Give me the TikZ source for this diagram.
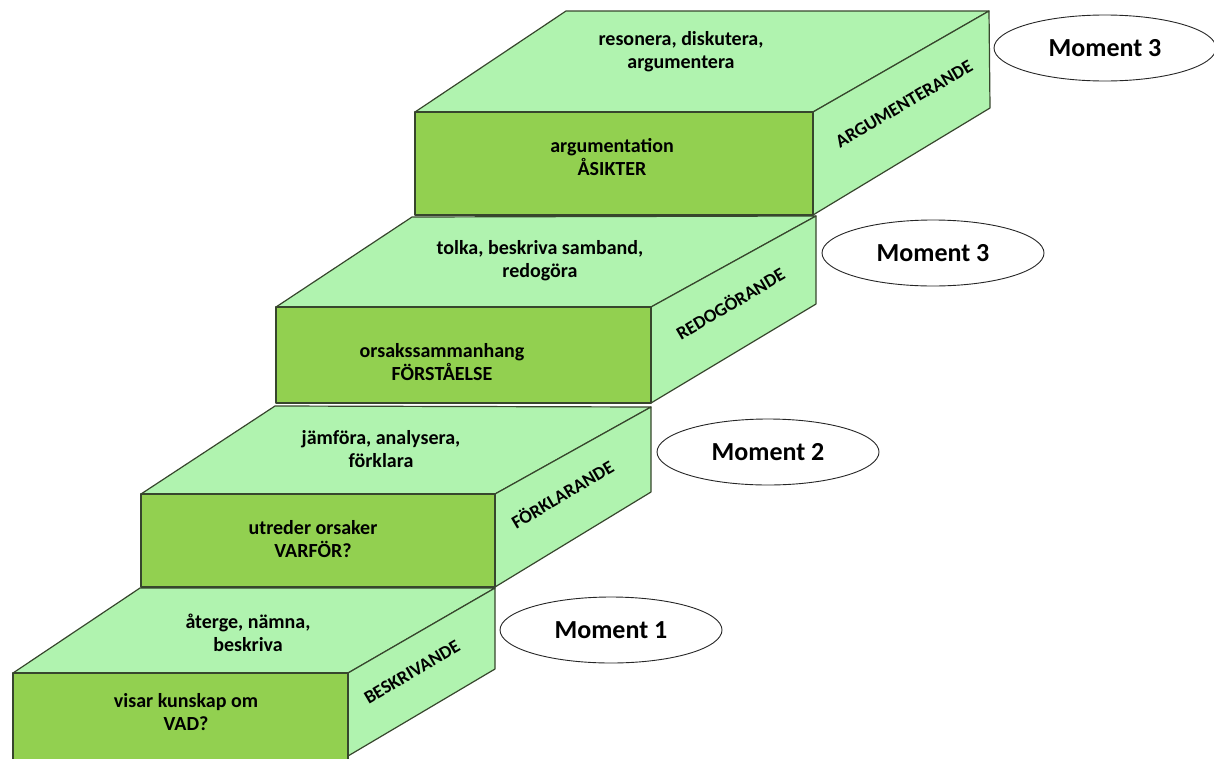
\documentclass[tikz,border=0pt]{standalone}
\usepackage{fontspec}
\setmainfont{Carlito}
\usetikzlibrary{shapes.geometric}
\definecolor{lightg}{RGB}{176,243,175}
\definecolor{darkg}{RGB}{146,208,80}
\definecolor{edgec}{RGB}{55,70,45}
\begin{document}
\begin{tikzpicture}[x=1pt,y=-1pt,
  face/.style={draw=edgec, line width=1.2pt, line join=round},
  lightface/.style={face, fill=lightg},
  frontface/.style={face, fill=darkg},
  txt/.style={font=\fontsize{20}{23}\selectfont\bfseries, align=center, text=black, inner sep=0pt},
  sidetxt/.style={font=\fontsize{18.5}{20}\selectfont\bfseries, rotate=30.5, inner sep=0pt},
  moment/.style={ellipse, draw=black!85, line width=0.9pt, fill=white, minimum width=222pt, minimum height=66pt, inner sep=0pt, font=\fontsize{26}{30}\selectfont\bfseries}]
\useasboundingbox (0,0) rectangle (1214,758);
% ---- box 4 (top)
\draw[lightface] (415,112) -- (566,11) -- (989,11) -- (813,112) -- cycle;
\draw[lightface] (813,112) -- (989,11) -- (990,108) -- (813,215) -- cycle;
\draw[frontface] (415,112) rectangle (813,215);
% ---- box 3
\draw[lightface] (276,307) -- (412,217) -- (816,216) -- (651,307) -- cycle;
\draw[lightface] (651,307) -- (816,216) -- (816,304) -- (651,403) -- cycle;
\draw[frontface] (276,307) rectangle (651,403);
% ---- box 2
\draw[lightface] (141,494) -- (275,406) -- (651,407) -- (495,494) -- cycle;
\draw[lightface] (495,494) -- (651,407) -- (651,492) -- (495,587) -- cycle;
\draw[frontface] (141,494) rectangle (495,587);
% ---- box 1 (bottom)
\draw[lightface] (13,673) -- (140,588) -- (495,588) -- (348,673) -- cycle;
\draw[lightface] (348,673) -- (495,588) -- (495,669) -- (348,756) -- cycle;
\draw[frontface] (13,673) rectangle (348,766);
% ---- texts
\node[txt] (t4top) at (681,52) {resonera, diskutera,\\argumentera};
\node[txt] (t4front) at (612,157) {argumentation\\ÅSIKTER};
\node[sidetxt] (t4side) at (904,104) {ARGUMENTERANDE};
\node[txt] (t3top) at (540,261) {tolka, beskriva samband,\\redogöra};
\node[txt] (t3front) at (442,362) {orsakssammanhang\\FÖRSTÅELSE};
\node[sidetxt] (t3side) at (730,303) {REDOGÖRANDE};
\node[txt] (t2top) at (381,449) {jämföra, analysera,\\förklara};
\node[txt] (t2front) at (313,539) {utreder orsaker\\VARFÖR?};
\node[sidetxt] (t2side) at (562,494) {FÖRKLARANDE};
\node[txt] (t1top) at (248,633) {återge, nämna,\\beskriva};
\node[txt] (t1front) at (186,712) {visar kunskap om\\VAD?};
\node[sidetxt] (t1side) at (412,672) {BESKRIVANDE};
% ---- moments
\node[moment] (m4) at (1105,48) {Moment 3};
\node[moment] (m3) at (933,253) {Moment 3};
\node[moment] (m2) at (768,452) {Moment 2};
\node[moment] (m1) at (611,630) {Moment 1};
\end{tikzpicture}
\end{document}
